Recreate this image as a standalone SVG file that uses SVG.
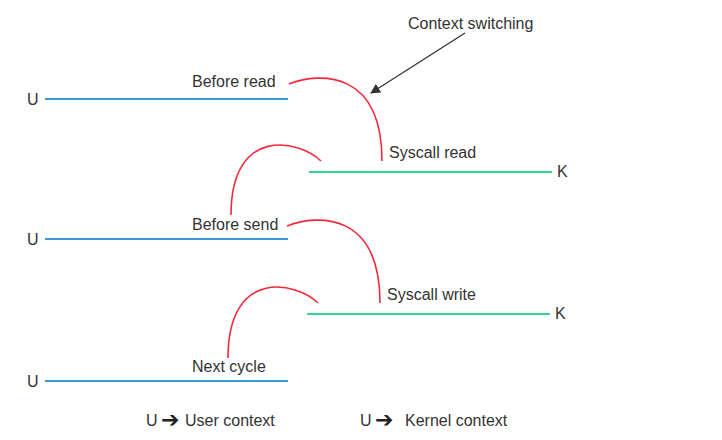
<svg xmlns="http://www.w3.org/2000/svg" width="722" height="440" viewBox="0 0 722 440">
<style>
text{font-family:"Liberation Sans",Arial,sans-serif;font-size:16px;fill:#333}
.ar{font-family:"DejaVu Sans",sans-serif;font-size:22px;fill:#222}
.u{stroke:#3a9ad9;stroke-width:2;fill:none}
.k{stroke:#33d68c;stroke-width:2;fill:none}
.cs{stroke:#f5283c;stroke-width:1.6;fill:none}
</style>
<defs>
<marker id="ah" viewBox="0 0 10 10" refX="9" refY="5" markerWidth="10" markerHeight="10" markerUnits="userSpaceOnUse" orient="auto">
<path d="M0,0 L10,5 L0,10 z" fill="#333"/>
</marker>
</defs>
<rect width="722" height="440" fill="#fff"/>
<g id="user1"><line class="u" x1="45" y1="99" x2="288" y2="99"/><text x="27" y="105">U</text><text x="192" y="87">Before read</text></g>
<g id="kernel1"><line class="k" x1="309" y1="172" x2="552" y2="172"/><text x="557" y="177">K</text><text x="389" y="158">Syscall read</text></g>
<g id="user2"><line class="u" x1="45" y1="239" x2="288" y2="239"/><text x="27" y="245">U</text><text x="192" y="230">Before send</text></g>
<g id="kernel2"><line class="k" x1="307" y1="314" x2="550" y2="314"/><text x="555" y="319">K</text><text x="387" y="300">Syscall write</text></g>
<g id="user3"><line class="u" x1="45" y1="381" x2="288" y2="381"/><text x="27" y="387">U</text><text x="192" y="372">Next cycle</text></g>
<g id="connectors">
<path class="cs" d="M289 84 C320 72 382 70 382 161"/>
<path class="cs" d="M321 161 C300 140 231 125 231 215"/>
<path class="cs" d="M287 226 C318 214 380 212 380 303"/>
<path class="cs" d="M318 303 C297 282 228 267 228 358"/>
<line x1="465" y1="33" x2="371" y2="93" stroke="#333" stroke-width="1.3" marker-end="url(#ah)"/>
</g>
<g id="note"><text x="408" y="29">Context switching</text></g>
<g id="legend">
<text x="146" y="426">U</text><text class="ar" x="161" y="427">➔</text><text x="185" y="426">User context</text>
<text x="360" y="426">U</text><text class="ar" x="375" y="427">➔</text><text x="405" y="426">Kernel context</text>
</g>
</svg>
